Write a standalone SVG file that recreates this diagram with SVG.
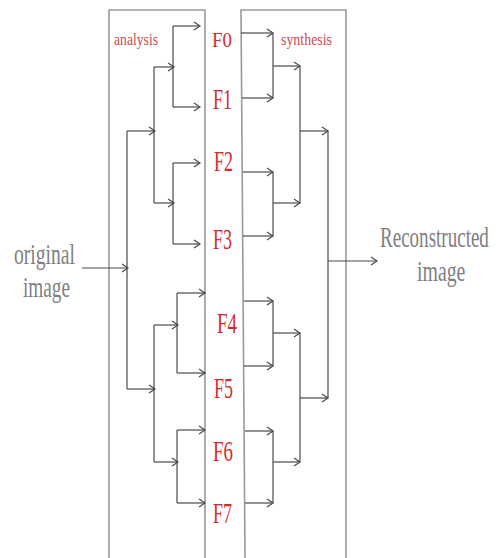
<svg xmlns="http://www.w3.org/2000/svg" width="497" height="558" viewBox="0 0 497 558">
<defs>
<style>
.box{fill:none;stroke:#9a9a9a;stroke-width:1.6}
.ln{fill:none;stroke:#4a4a4a;stroke-width:1.2}
.ar{fill:none;stroke:#4a4a4a;stroke-width:1.2;marker-end:url(#ah)}
.f{font-family:"Liberation Serif","Times New Roman",serif;fill:#d42a2a}
.s{font-family:"Liberation Serif","Times New Roman",serif;fill:#d04a4a;font-size:16px}
.g{font-family:"Liberation Serif","Times New Roman",serif;fill:#7f7f7f;font-size:30px}
</style>
<marker id="ah" markerWidth="10" markerHeight="10" refX="7" refY="5" orient="auto" markerUnits="userSpaceOnUse">
<path d="M1,1 L7,5 L1,9" fill="none" stroke="#4a4a4a" stroke-width="1.2"/>
</marker>
</defs>
<rect width="497" height="558" fill="#fff"/>
<g id="analysis-box">
<path class="box" d="M109,558 V10 H205 V558"/>
<text class="s" x="114" y="45" textLength="44" lengthAdjust="spacingAndGlyphs">analysis</text>
</g>
<g id="synthesis-box">
<path class="box" d="M245,558 L241,10 H346 V558"/>
<text class="s" x="281" y="45" textLength="51" lengthAdjust="spacingAndGlyphs">synthesis</text>
</g>
<g id="original-image">
<text class="g" x="14" y="264" textLength="61" lengthAdjust="spacingAndGlyphs">original</text>
<text class="g" x="23" y="297" textLength="47" lengthAdjust="spacingAndGlyphs">image</text>
</g>
<g id="reconstructed-image">
<text class="g" transform="translate(380,247) scale(0.635,1)">Reconstructed</text>
<text class="g" transform="translate(417,281) scale(0.66,1)">image</text>
</g>
<g id="F0"><text class="f" x="212" y="47" font-size="22" textLength="20" lengthAdjust="spacingAndGlyphs">F0</text></g>
<g id="F1"><text class="f" x="213" y="109" font-size="30" textLength="19" lengthAdjust="spacingAndGlyphs">F1</text></g>
<g id="F2"><text class="f" x="214" y="171" font-size="30" textLength="19" lengthAdjust="spacingAndGlyphs">F2</text></g>
<g id="F3"><text class="f" x="213" y="249" font-size="30" textLength="19" lengthAdjust="spacingAndGlyphs">F3</text></g>
<g id="F4"><text class="f" x="217" y="333" font-size="30" textLength="20" lengthAdjust="spacingAndGlyphs">F4</text></g>
<g id="F5"><text class="f" x="214" y="398" font-size="30" textLength="19" lengthAdjust="spacingAndGlyphs">F5</text></g>
<g id="F6"><text class="f" x="213" y="461" font-size="30" textLength="20" lengthAdjust="spacingAndGlyphs">F6</text></g>
<g id="F7"><text class="f" x="213" y="523" font-size="30" textLength="19" lengthAdjust="spacingAndGlyphs">F7</text></g>
<g id="connectors">
<line class="ar" x1="82" y1="268" x2="128" y2="268"/>
<line class="ln" x1="127" y1="131" x2="127" y2="389"/>
<line class="ar" x1="127" y1="131" x2="155" y2="131"/>
<line class="ar" x1="127" y1="389" x2="155" y2="389"/>
<line class="ln" x1="154" y1="67" x2="154" y2="203"/>
<line class="ar" x1="154" y1="67" x2="174" y2="67"/>
<line class="ar" x1="154" y1="203" x2="174" y2="203"/>
<line class="ln" x1="173" y1="26" x2="173" y2="107"/>
<line class="ar" x1="173" y1="26" x2="200" y2="26"/>
<line class="ar" x1="173" y1="107" x2="200" y2="107"/>
<line class="ln" x1="173" y1="163" x2="173" y2="244"/>
<line class="ar" x1="173" y1="163" x2="200" y2="163"/>
<line class="ar" x1="173" y1="244" x2="200" y2="244"/>
<line class="ln" x1="154" y1="325" x2="154" y2="462"/>
<line class="ar" x1="154" y1="325" x2="178" y2="325"/>
<line class="ar" x1="154" y1="462" x2="178" y2="462"/>
<line class="ln" x1="177" y1="293" x2="177" y2="373"/>
<line class="ar" x1="177" y1="293" x2="205" y2="293"/>
<line class="ar" x1="177" y1="373" x2="205" y2="373"/>
<line class="ln" x1="177" y1="430" x2="177" y2="503"/>
<line class="ar" x1="177" y1="430" x2="205" y2="430"/>
<line class="ar" x1="177" y1="503" x2="205" y2="503"/>
<line class="ar" x1="241" y1="33" x2="273" y2="33"/>
<line class="ar" x1="242" y1="98" x2="273" y2="98"/>
<line class="ln" x1="273" y1="33" x2="273" y2="98"/>
<line class="ar" x1="273" y1="66" x2="300" y2="66"/>
<line class="ar" x1="243" y1="172" x2="273" y2="172"/>
<line class="ar" x1="243" y1="236" x2="273" y2="236"/>
<line class="ln" x1="273" y1="172" x2="273" y2="236"/>
<line class="ar" x1="273" y1="203" x2="300" y2="203"/>
<line class="ln" x1="300" y1="66" x2="300" y2="203"/>
<line class="ar" x1="300" y1="131" x2="328" y2="131"/>
<line class="ar" x1="244" y1="301" x2="273" y2="301"/>
<line class="ar" x1="244" y1="366" x2="273" y2="366"/>
<line class="ln" x1="273" y1="301" x2="273" y2="366"/>
<line class="ar" x1="273" y1="333" x2="300" y2="333"/>
<line class="ar" x1="245" y1="431" x2="273" y2="431"/>
<line class="ar" x1="245" y1="503" x2="273" y2="503"/>
<line class="ln" x1="273" y1="431" x2="273" y2="503"/>
<line class="ar" x1="273" y1="462" x2="300" y2="462"/>
<line class="ln" x1="300" y1="333" x2="300" y2="462"/>
<line class="ar" x1="300" y1="398" x2="328" y2="398"/>
<line class="ln" x1="328" y1="131" x2="328" y2="398"/>
<line class="ar" x1="328" y1="261" x2="377" y2="261"/>
</g>
</svg>
